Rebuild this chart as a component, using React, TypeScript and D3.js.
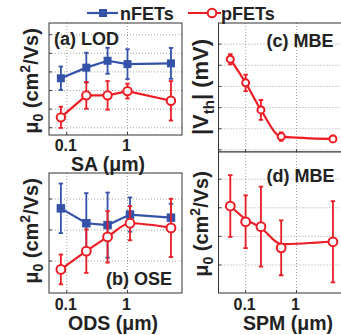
import React from "react";
import * as d3 from "d3";

// ---------- data ----------
const lodX = [0.08, 0.21, 0.47, 1.0, 5.2];
const lodN = [2.66, 3.23, 3.6, 3.42, 3.46];
const lodNErr = [0.63, 0.8, 0.7, 0.8, 0.83];
const lodP = [0.56, 1.74, 1.74, 1.97, 1.45];
const lodPErr = [0.57, 0.72, 0.77, 0.4, 1.06];

const oseX = [0.08, 0.21, 0.47, 1.1, 5.2];
const oseN = [1.7, 1.22, 1.16, 1.5, 1.4];
const oseNErr = [0.8, 0.97, 1.05, 0.55, 0.45];
const oseP = [-0.27, 0.32, 0.78, 1.22, 1.07];
const osePErr = [0.48, 0.7, 0.83, 0.55, 0.94];

const mbeX = [0.05, 0.1, 0.2, 0.5, 5.2];
const vth = [4.29, 3.17, 1.89, 0.63, 0.52];
const vthErr = [0.24, 0.39, 0.47, 0.2, 0.15];
const mu = [2.06, 1.51, 1.34, 0.6, 0.81];
const muErr = [1.08, 0.92, 1.4, 0.96, 1.42];
const muFit = [2.06, 1.6, 1.3, 0.73, 0.82];

const xTickVals = [0.1, 1];
const xTickLabels = ["0.1", "1"];

const BLUE = "#3352a8";
const RED = "#ec1c24";
const FONT = "'Liberation Sans', Arial, Helvetica, sans-serif";

type Series = {
  x: number[];
  y: number[];
  err: number[];
  color: string;
  marker: "square" | "circle";
  curve: "linear" | "smooth";
  fit?: number[];
  size: number;
};

type PanelProps = {
  box: [number, number, number, number]; // left, top, right, bottom
  xDomain: [number, number];
  yDomain: [number, number];
  yTicks: number[];
  series: Series[];
  showXLabels: boolean;
  labelDy: number;
  id: string;
};

function Panel({ box, xDomain, yDomain, yTicks, series, showXLabels, labelDy, id }: PanelProps) {
  const [l, t, r, b] = box;
  const x = d3.scaleLog().domain(xDomain).range([l, r]);
  const y = d3.scaleLinear().domain(yDomain).range([b, t]);
  const clipId = "clip-" + id;
  return (
    <g>
      <defs>
        <clipPath id={clipId}>
          <rect x={l} y={t} width={r - l} height={b - t} />
        </clipPath>
      </defs>
      <rect x={l} y={t} width={r - l} height={b - t} fill="#fff" />
      {/* grid */}
      {yTicks.map((v) => (
        <g key={"gy" + v}>
          <line x1={l} x2={r} y1={y(v)} y2={y(v)} stroke="#9a9a9a" strokeWidth={0.9} strokeDasharray="1 2" />
          <line x1={l} x2={l + 3} y1={y(v)} y2={y(v)} stroke="#444" strokeWidth={1} />
        </g>
      ))}
      {xTickVals.map((v) => (
        <g key={"gx" + v}>
          <line x1={x(v)} x2={x(v)} y1={t} y2={b} stroke="#9a9a9a" strokeWidth={0.9} strokeDasharray="1 2" />
          <line x1={x(v)} x2={x(v)} y1={b} y2={b - 3} stroke="#444" strokeWidth={1} />
        </g>
      ))}
      <g clipPath={`url(#${clipId})`}>
        {series.map((s, si) => {
          const line = d3
            .line<number>()
            .x((_, i) => x(s.x[i]))
            .y((d) => y(d))
            .curve(s.curve === "smooth" ? d3.curveMonotoneX : d3.curveLinear);
          const ly = s.fit ?? s.y;
          return (
            <g key={si}>
              <path d={line(ly) ?? ""} fill="none" stroke={s.color} strokeWidth={2.2} />
              {s.x.map((xv, i) => {
                const cx = x(xv);
                const y1 = y(s.y[i] + s.err[i]);
                const y2 = y(s.y[i] - s.err[i]);
                return (
                  <g key={i} stroke={s.color} strokeWidth={1.8}>
                    <line x1={cx} x2={cx} y1={y1} y2={y2} />
                    <line x1={cx - 2.2} x2={cx + 2.2} y1={y1} y2={y1} />
                    <line x1={cx - 2.2} x2={cx + 2.2} y1={y2} y2={y2} />
                  </g>
                );
              })}
              {s.x.map((xv, i) => {
                const cx = x(xv);
                const cy = y(s.y[i]);
                return s.marker === "square" ? (
                  <rect key={"m" + i} x={cx - s.size / 2} y={cy - s.size / 2} width={s.size} height={s.size} fill={s.color} />
                ) : (
                  <circle key={"m" + i} cx={cx} cy={cy} r={s.size} fill="#fff" stroke={s.color} strokeWidth={2} />
                );
              })}
            </g>
          );
        })}
      </g>
      <rect x={l} y={t} width={r - l} height={b - t} fill="none" stroke="#333" strokeWidth={1} />
      {showXLabels &&
        xTickVals.map((v, i) => (
          <text key={"xl" + v} x={x(v) - 1} y={b + labelDy} textAnchor="middle" fontSize={16} fontWeight="bold" fontFamily={FONT} fill="#222">
            {xTickLabels[i]}
          </text>
        ))}
    </g>
  );
}

function MuTitle({ x, y }: { x: number; y: number }) {
  return (
    <text transform={`translate(${x},${y}) rotate(-90)`} textAnchor="middle" fontSize={20} fontWeight="bold" fontFamily={FONT} fill="#222">
      μ<tspan fontSize={14} dy={5}>0</tspan>
      <tspan dy={-5}> (cm</tspan>
      <tspan fontSize={14} dy={-8}>2</tspan>
      <tspan dy={8}>/Vs)</tspan>
    </text>
  );
}

export default function App() {
  const W = 341;
  const H = 335;
  const aBox: [number, number, number, number] = [49, 23, 182, 135];
  const bBox: [number, number, number, number] = [49, 173, 182, 293];
  const cBox: [number, number, number, number] = [218.5, 23, 343, 152];
  const dBox: [number, number, number, number] = [218.5, 152, 343, 293];
  const lrDomain: [number, number] = [0.051, 7.9];
  const cdDomain: [number, number] = [0.0293, 8.2];
  return (
    <svg width={W} height={H} style={{ position: "absolute", left: 0, top: 0, background: "#fff" }}>
      <rect width={W} height={H} fill="#fff" />
      <Panel
        id="a"
        box={aBox}
        xDomain={lrDomain}
        yDomain={[-0.39, 5.63]}
        yTicks={[0, 1, 2, 3, 4, 5]}
        showXLabels
        labelDy={15.5}
        series={[
          { x: lodX, y: lodN, err: lodNErr, color: BLUE, marker: "square", curve: "linear", size: 8 },
          { x: lodX, y: lodP, err: lodPErr, color: RED, marker: "circle", curve: "linear", size: 4.2 },
        ]}
      />
      <Panel
        id="b"
        box={bBox}
        xDomain={lrDomain}
        yDomain={[-1.03, 2.84]}
        yTicks={[0, 1, 2]}
        showXLabels
        labelDy={16.5}
        series={[
          { x: oseX, y: oseN, err: oseNErr, color: BLUE, marker: "square", curve: "linear", size: 8.5 },
          { x: oseX, y: oseP, err: osePErr, color: RED, marker: "circle", curve: "smooth", size: 4.4 },
        ]}
      />
      <Panel
        id="c"
        box={cBox}
        xDomain={cdDomain}
        yDomain={[-0.1, 6]}
        yTicks={[0, 1, 2, 3, 4, 5]}
        showXLabels={false}
        labelDy={0}
        series={[{ x: mbeX, y: vth, err: vthErr, color: RED, marker: "circle", curve: "smooth", size: 3.5 }]}
      />
      <Panel
        id="d"
        box={dBox}
        xDomain={cdDomain}
        yDomain={[-0.98, 3.95]}
        yTicks={[0, 1, 2, 3]}
        showXLabels
        labelDy={16.5}
        series={[{ x: mbeX, y: mu, err: muErr, color: RED, marker: "circle", curve: "smooth", size: 4.4, fit: muFit }]}
      />

      {/* panel labels */}
      <g fontFamily={FONT} fontWeight="bold" fontSize={18} fill="#222">
        <text x={54} y={45}>(a) LOD</text>
        <text x={106} y={285}>(b) OSE</text>
        <text x={266.5} y={46.5}>(c) MBE</text>
        <text x={266.5} y={182}>(d) MBE</text>
      </g>

      {/* axis titles */}
      <g fontFamily={FONT} fontWeight="bold" fontSize={19.5} fill="#222" textAnchor="middle">
        <text x={108} y={170.5}>SA (μm)</text>
        <text x={113} y={330}>ODS (μm)</text>
        <text x={288} y={330}>SPM (μm)</text>
      </g>
      <MuTitle x={38} y={81} />
      <MuTitle x={38} y={231} />
      <MuTitle x={208} y={224} />
      <text transform="translate(208,87) rotate(-90)" textAnchor="middle" fontSize={22} fontWeight="bold" fontFamily={FONT} fill="#222">
        |V<tspan fontSize={15} dy={6}>th</tspan>
        <tspan dy={-6}>| (mV)</tspan>
      </text>

      {/* legend */}
      <g>
        <line x1={87} x2={118} y1={13} y2={13} stroke={BLUE} strokeWidth={2.2} />
        <rect x={99} y={9} width={8} height={8} fill={BLUE} />
        <text x={120} y={19.5} fontFamily={FONT} fontWeight="bold" fontSize={18} fill="#222">nFETs</text>
        <line x1={188} x2={221} y1={13} y2={13} stroke={RED} strokeWidth={2.2} />
        <circle cx={212} cy={13} r={4.3} fill="#fff" stroke={RED} strokeWidth={2} />
        <text x={221} y={19.5} fontFamily={FONT} fontWeight="bold" fontSize={18} fill="#222">pFETs</text>
      </g>
    </svg>
  );
}
